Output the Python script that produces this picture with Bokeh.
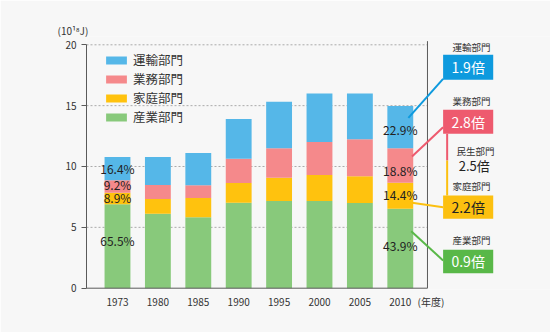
from bokeh.plotting import figure
from bokeh.models import Range1d, FixedTicker, Legend, LegendItem, ColumnDataSource
from bokeh.core.properties import value
from bokeh.embed import file_html
from bokeh.resources import INLINE

# ---------------- data ----------------
years = ["1973", "1980", "1985", "1990", "1995", "2000", "2005", "2010"]
industry = [6.89, 6.12, 5.84, 7.02, 7.16, 7.16, 7.00, 6.53]    # 産業部門
household = [0.96, 1.21, 1.57, 1.62, 1.92, 2.14, 2.19, 2.14]   # 家庭部門
business = [1.01, 1.15, 1.04, 2.00, 2.42, 2.72, 3.05, 2.83]    # 業務部門
transport = [1.92, 2.30, 2.65, 3.26, 3.83, 3.97, 3.75, 3.48]   # 運輸部門
sectors = ["産業部門", "家庭部門", "業務部門", "運輸部門"]
pct_1973 = ["65.5%", "8.9%", "9.2%", "16.4%"]
pct_2010 = ["43.9%", "14.4%", "18.8%", "22.9%"]
ratio_sectors = ["運輸部門", "業務部門", "家庭部門", "産業部門"]
ratio_values = ["1.9倍", "2.8倍", "2.2倍", "0.9倍"]
minsei_label = "民生部門"
minsei_value = "2.5倍"
y_ticks = [0, 5, 10, 15, 20]
unit_label = "(10¹⁸J)"
year_label = "(年度)"

# ---------------- style ----------------
FONT = "Noto Sans CJK JP"
BG = "#f7f7f7"
bar_colors = ["#88c97b", "#ffc20e", "#f5898b", "#55b7e8"]
box_colors = ["#0e9ade", "#ee5a6e", "#fcc010", "#59b848"]
box_text_colors = ["white", "white", "#222222", "white"]
AXIS_COLOR = "#5a5a5a"
X_LEFT, X_RIGHT = -0.767, 7.673

p = figure(width=550, height=332,
           x_range=Range1d(X_LEFT, 10.718), y_range=Range1d(-0.107, 20.682),
           output_backend="svg", toolbar_location=None,
           min_border_left=86, min_border_right=0, min_border_top=36, min_border_bottom=43,
           background_fill_color=BG, border_fill_color=BG, outline_line_color=None)
p.grid.visible = False

# unit label as title
p.title.text = unit_label
p.title.align = "left"
p.title.offset = -29
p.title.text_font = FONT
p.title.text_font_size = "10px"
p.title.text_font_style = "normal"
p.title.text_color = "#333333"
p.title.standoff = -3

# x axis (labels only; line drawn as glyph)
xa = p.xaxis[0]
xa.ticker = FixedTicker(ticks=list(range(len(years))) + [7.76])
xa.major_label_overrides = {**{i: y for i, y in enumerate(years)}, 7.76: year_label}
xa.major_tick_line_color = None
xa.major_tick_out = 0
xa.major_tick_in = 0
xa.minor_tick_line_color = None
xa.axis_line_color = None
xa.major_label_text_font = FONT
xa.major_label_text_font_size = "10px"
xa.major_label_text_color = "#333333"
xa.major_label_standoff = 4

ya = p.yaxis[0]
ya.ticker = FixedTicker(ticks=y_ticks)
ya.bounds = (0, 20)
ya.major_tick_out = 5
ya.major_tick_in = 0
ya.major_tick_line_color = AXIS_COLOR
ya.minor_tick_line_color = None
ya.axis_line_color = AXIS_COLOR
ya.major_label_text_font = FONT
ya.major_label_text_font_size = "10px"
ya.major_label_text_color = "#333333"
ya.major_label_standoff = 5

# dashed grid lines (limited to plot box)
gy = [t for t in y_ticks if t > 0]
p.segment(x0=[X_LEFT] * len(gy), x1=[X_RIGHT] * len(gy), y0=gy, y1=gy,
          line_color="#aaaaaa", line_width=1, line_dash="2 2")

# stacked bars
src = ColumnDataSource(dict(x=list(range(len(years))), industry=industry,
                            household=household, business=business, transport=transport))
rs = p.vbar_stack(["industry", "household", "business", "transport"], x="x", width=0.64,
                  color=bar_colors, line_color=None, source=src)

# baseline and right border
p.segment(x0=[X_LEFT, X_RIGHT], x1=[X_RIGHT, X_RIGHT], y0=[0, 0], y1=[0, 20.3],
          line_color=AXIS_COLOR, line_width=1)

legend = Legend(items=[LegendItem(label=sectors[i], renderers=[rs[i]]) for i in [3, 2, 1, 0]],
                location=(17, 163), orientation="vertical",
                glyph_width=26, glyph_height=10, label_height=16, spacing=0,
                padding=0, margin=0, label_standoff=4,
                background_fill_alpha=0, border_line_color=None,
                label_text_font=FONT, label_text_font_size="12.5px", label_text_color="#333333")
p.add_layout(legend)

# percentage labels on 1973 and 2010 bars
series = [industry, household, business, transport]
def mids(i):
    out, base = [], 0.0
    for s in series:
        out.append(base + s[i] / 2)
        base += s[i]
    return out
lab_x = [0] * 4 + [len(years) - 1] * 4
lab_y = mids(0) + mids(len(years) - 1)
lab_t = pct_1973 + pct_2010
lab_off = [-6, -1, -2.5, 0, -3, -1, 5, 2]
p.text(x=lab_x, y=lab_y, text=lab_t, y_offset=lab_off,
       text_align="center", text_baseline="middle",
       text_font=value(FONT), text_font_size="12px", text_color="#222222")

# right-hand ratio panel
bx_l, bx_r = 8.06, 9.30
box_bottom = [17.12, 12.69, 5.70, 1.23]
box_top = [19.18, 14.66, 7.62, 3.16]
con_x0 = [7.20, 7.29, 7.29, 7.27]
con_y0 = [14.0, 10.82, 7.02, 4.68]
con_x1 = [8.06, 8.06, 8.06, 8.06]
con_y1 = [17.2, 13.23, 6.66, 2.28]
p.segment(x0=con_x0, y0=con_y0, x1=con_x1, y1=con_y1, line_color=box_colors, line_width=2)
p.segment(x0=[8.16, 8.16], x1=[8.16, 8.16], y0=[12.69, 10.49], y1=[10.49, 7.62],
          line_color=[box_colors[1], box_colors[2]], line_width=2)
p.quad(left=bx_l, right=bx_r, bottom=box_bottom, top=box_top, color=box_colors, line_color=None)
bc = (bx_l + bx_r) / 2
p.text(x=[bc] * 4, y=[(b + t) / 2 for b, t in zip(box_bottom, box_top)], text=ratio_values,
       text_align="center", text_baseline="middle", text_color=box_text_colors,
       text_font=value(FONT), text_font_size="14px")
p.text(x=[8.76] * 4, y=[19.78, 15.37, 8.38, 3.92], text=ratio_sectors,
       text_align="center", text_baseline="middle", text_color="#333333",
       text_font=value(FONT), text_font_size="9.5px")
p.text(x=[8.86], y=[11.31], text=[minsei_label], text_align="center", text_baseline="middle",
       text_color="#333333", text_font=value(FONT), text_font_size="9.5px")
p.text(x=[8.83], y=[10.08], text=[minsei_value], text_align="center", text_baseline="middle",
       text_color="#222222", text_font=value(FONT), text_font_size="13px")

open("out.html", "w").write(file_html(p, INLINE))
